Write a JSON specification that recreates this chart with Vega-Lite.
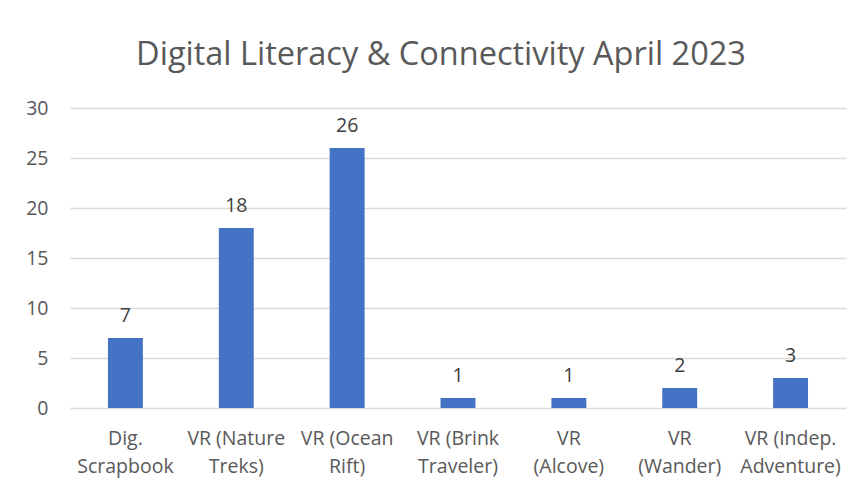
{
  "$schema": "https://vega.github.io/schema/vega-lite/v6.json",
  "autosize": {"type": "none"},
  "width": 776,
  "height": 300,
  "padding": {"left": 70, "top": 108, "right": 20, "bottom": 83},
  "background": "white",
  "title": {
    "text": "Digital Literacy & Connectivity April 2023",
    "font": "Open Sans",
    "fontSize": 32.5,
    "fontWeight": "normal",
    "color": "#595959",
    "anchor": "middle",
    "frame": "group",
    "dx": -17,
    "offset": 27
  },
  "data": {
    "values": [
      {"activity": "Dig.\nScrapbook", "count": 7},
      {"activity": "VR (Nature\nTreks)", "count": 18},
      {"activity": "VR (Ocean\nRift)", "count": 26},
      {"activity": "VR (Brink\nTraveler)", "count": 1},
      {"activity": "VR\n(Alcove)", "count": 1},
      {"activity": "VR\n(Wander)", "count": 2},
      {"activity": "VR (Indep.\nAdventure)", "count": 3}
    ]
  },
  "config": {
    "view": {"stroke": null},
    "axis": {"labelFont": "Open Sans", "labelColor": "#595959", "labelFontSize": 19.5}
  },
  "encoding": {
    "x": {
      "field": "activity",
      "type": "nominal",
      "sort": null,
      "scale": {"paddingInner": 0.685, "paddingOuter": 0.3425},
      "axis": {
        "title": null,
        "labelAngle": 0,
        "ticks": false,
        "domain": false,
        "labelPadding": 21,
        "labelExpr": "split(datum.value, '\\n')",
        "labelLineHeight": 28
      }
    },
    "y": {
      "field": "count",
      "type": "quantitative",
      "scale": {"domain": [0, 30]},
      "axis": {
        "title": null,
        "values": [0, 5, 10, 15, 20, 25, 30],
        "ticks": false,
        "domain": false,
        "labelPadding": 22,
        "gridColor": "#d9d9d9",
        "gridWidth": 1.3
      }
    }
  },
  "layer": [
    {"mark": {"type": "bar", "color": "#4472c4"}},
    {
      "mark": {"type": "text", "font": "Open Sans", "fontSize": 19.5, "color": "#404040", "baseline": "alphabetic", "dy": -16},
      "encoding": {"text": {"field": "count", "type": "quantitative"}}
    }
  ]
}
